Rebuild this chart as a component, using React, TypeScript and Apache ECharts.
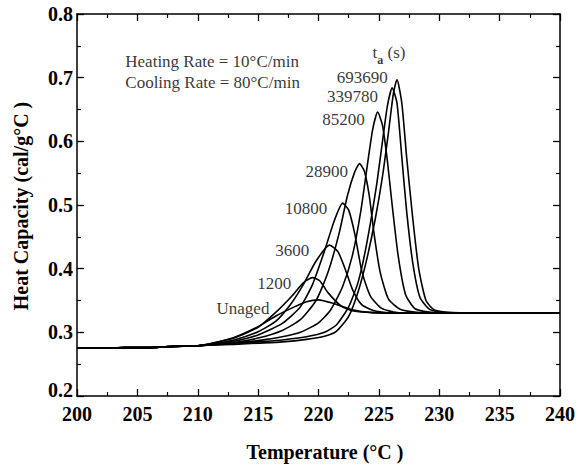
import React, { useEffect, useRef } from "react";
import * as echarts from "echarts";

const FONT = "'Liberation Serif', 'Times New Roman', serif";

// common baseline (all curves coincide here)
const baseT = [200, 202, 204, 206, 208, 210];
const baseCp = [0.275, 0.275, 0.276, 0.276, 0.278, 0.279];

const unagedT = [211, 213, 215, 216.5, 218, 219, 220, 221.3, 222.7, 224.5, 227, 232, 240];
const unagedCp = [0.282, 0.292, 0.309, 0.326, 0.34, 0.348, 0.351, 0.345, 0.336, 0.331, 0.33, 0.33, 0.33];

const t1200T = [211, 213, 215, 216.5, 217.8, 218.7, 219.5, 220.1, 220.8, 221.9, 223, 224.5, 227, 240];
const t1200Cp = [0.282, 0.291, 0.308, 0.332, 0.357, 0.377, 0.386, 0.381, 0.362, 0.341, 0.333, 0.331, 0.33, 0.33];

const t3600T = [211, 213, 215, 216.5, 217.8, 218.8, 219.8, 220.9, 221.6, 222.2, 222.8, 223.6, 224.8, 227, 240];
const t3600Cp = [0.281, 0.288, 0.301, 0.318, 0.347, 0.377, 0.412, 0.437, 0.427, 0.4, 0.368, 0.343, 0.333, 0.33, 0.33];

const t10800T = [211, 213, 215, 217, 218.5, 219.5, 220.5, 221.3, 222, 222.5, 223, 223.6, 224.3, 225.2, 226.5, 229, 240];
const t10800Cp = [0.281, 0.286, 0.296, 0.314, 0.34, 0.375, 0.428, 0.475, 0.503, 0.492, 0.455, 0.395, 0.357, 0.338, 0.331, 0.33, 0.33];

const t28900T = [211, 213, 215, 217, 218.5, 219.8, 220.8, 221.7, 222.4, 223, 223.4, 223.8, 224.2, 224.6, 225.1, 225.8, 226.8, 228.5, 240];
const t28900Cp = [0.28, 0.284, 0.291, 0.303, 0.32, 0.35, 0.395, 0.455, 0.515, 0.552, 0.565, 0.553, 0.515, 0.455, 0.395, 0.352, 0.336, 0.331, 0.33];

const t85200T = [211, 213, 215, 217, 218.5, 220, 221, 222, 222.8, 223.5, 224.1, 224.5, 224.9, 225.3, 225.7, 226.1, 226.6, 227.2, 228, 229.5, 240];
const t85200Cp = [0.28, 0.283, 0.287, 0.293, 0.3, 0.315, 0.335, 0.372, 0.42, 0.49, 0.57, 0.62, 0.646, 0.625, 0.57, 0.5, 0.42, 0.36, 0.337, 0.331, 0.33];

const t339780T = [211, 213, 215, 217, 219, 220.5, 221.5, 222.5, 223.3, 224, 224.8, 225.3, 225.7, 226.1, 226.5, 226.9, 227.3, 227.8, 228.4, 229.2, 230.5, 240];
const t339780Cp = [0.28, 0.282, 0.285, 0.288, 0.293, 0.3, 0.312, 0.34, 0.38, 0.44, 0.53, 0.6, 0.655, 0.684, 0.66, 0.575, 0.49, 0.41, 0.355, 0.336, 0.331, 0.33];

const t693690T = [211, 213, 215, 217, 219, 220.5, 221.5, 222.5, 223.3, 224, 224.7, 225.3, 225.8, 226.2, 226.5, 226.9, 227.3, 227.8, 228.3, 228.9, 229.6, 231, 240];
const t693690Cp = [0.28, 0.281, 0.283, 0.285, 0.289, 0.294, 0.302, 0.325, 0.365, 0.415, 0.478, 0.545, 0.615, 0.675, 0.697, 0.66, 0.575, 0.48, 0.4, 0.35, 0.335, 0.331, 0.33];

const curveNames = ["Unaged", "1200", "3600", "10800", "28900", "85200", "339780", "693690"];
const curveT = [unagedT, t1200T, t3600T, t10800T, t28900T, t85200T, t339780T, t693690T];
const curveCp = [unagedCp, t1200Cp, t3600Cp, t10800Cp, t28900Cp, t85200Cp, t339780Cp, t693690Cp];

// curve labels: [T, Cp] of the label's right end
const labelNames = ["Unaged", "1200", "3600", "10800", "28900", "85200", "339780", "693690"];
const labelT = [216.1, 217.9, 219.4, 220.9, 222.6, 224.0, 225.1, 225.9];
const labelCp = [0.338, 0.377, 0.428, 0.494, 0.553, 0.635, 0.67, 0.701];

const noteLines = ["Heating Rate = 10°C/min", "Cooling Rate = 80°C/min"];
const noteT = [204.0, 204.0];
const noteCp = [0.726, 0.693];

const xTitle = "Temperature (°C )";
const yTitle = "Heat Capacity (cal/g°C )";

export default function App() {
  const ref = useRef<HTMLDivElement>(null);
  useEffect(() => {
    if (!ref.current) return;
    const chart = echarts.init(ref.current, undefined, { renderer: "svg" });

    const lineSeries = curveNames.map((name, i) => ({
      name,
      type: "line",
      smooth: 0.2,
      showSymbol: false,
      symbol: "none",
      lineStyle: { color: "#000", width: 1.6 },
      data: [
        ...baseT.map((t, j) => [t, baseCp[j]]),
        ...curveT[i].map((t, j) => [t, curveCp[i][j]]),
      ],
      z: 3,
    }));

    const labelSeries = {
      type: "scatter",
      symbolSize: 0,
      silent: true,
      data: labelNames.map((n, i) => ({ value: [labelT[i], labelCp[i]], name: n })),
      label: {
        show: true,
        position: "left",
        distance: 2,
        formatter: (p: any) => p.name,
        color: "#000",
        fontFamily: FONT,
        fontSize: 17,
      },
    };

    const noteSeries = {
      type: "scatter",
      symbolSize: 0,
      silent: true,
      data: noteLines.map((n, i) => ({ value: [noteT[i], noteCp[i]], name: n })),
      label: {
        show: true,
        position: "right",
        distance: 0,
        formatter: (p: any) => p.name,
        color: "#000",
        fontFamily: FONT,
        fontSize: 17,
      },
    };

    const taSeries = {
      type: "scatter",
      symbolSize: 0,
      silent: true,
      data: [{ value: [227.2, 0.735], name: "ta" }],
      label: {
        show: true,
        position: "left",
        distance: 0,
        formatter: "{t|t}{s|a}{t| (s)}",
        color: "#000",
        rich: {
          t: { fontFamily: FONT, fontSize: 17, color: "#000", lineHeight: 22, verticalAlign: "top" },
          s: { fontFamily: FONT, fontSize: 12, color: "#000", fontWeight: "bold", lineHeight: 22, verticalAlign: "bottom" },
        },
      },
    };

    const axisCommon = {
      axisLine: { show: true, lineStyle: { color: "#000", width: 1.5 } },
      axisTick: { show: true, inside: true, length: 7, lineStyle: { color: "#000", width: 1.3 } },
      minorTick: { show: true, splitNumber: 2, length: 4, lineStyle: { color: "#000", width: 1.2 } },
      splitLine: { show: false },
      minorSplitLine: { show: false },
    };

    chart.setOption({
      animation: false,
      backgroundColor: "#fff",
      grid: { left: 77, right: 16, top: 14, bottom: 70, containLabel: false },
      xAxis: [
        {
          type: "value",
          min: 200,
          max: 240,
          interval: 5,
          position: "bottom",
          ...axisCommon,
          axisLabel: {
            color: "#000",
            fontFamily: FONT,
            fontWeight: "bold",
            fontSize: 20,
            margin: 8,
          },
        },
        {
          type: "value",
          min: 200,
          max: 240,
          interval: 5,
          position: "top",
          ...axisCommon,
          axisLabel: { show: false },
        },
      ],
      yAxis: [
        {
          type: "value",
          min: 0.2,
          max: 0.8,
          interval: 0.1,
          position: "left",
          ...axisCommon,
          axisLabel: {
            color: "#000",
            fontFamily: FONT,
            fontWeight: "bold",
            fontSize: 20,
            margin: 4,
            formatter: (v: number) => (Math.abs(v - 0.2) < 1e-6 ? "{lift|0.2}" : v.toFixed(1)),
            rich: {
              lift: {
                fontFamily: FONT,
                fontWeight: "bold",
                fontSize: 20,
                color: "#000",
                padding: [0, 0, 12, 0],
              },
            },
          },
        },
        {
          type: "value",
          min: 0.2,
          max: 0.8,
          interval: 0.1,
          position: "right",
          ...axisCommon,
          axisLabel: { show: false },
        },
      ],
      series: [...lineSeries, labelSeries, noteSeries, taSeries],
      graphic: [
        {
          type: "text",
          x: 325,
          y: 452,
          style: {
            text: xTitle,
            font: `bold 20px ${FONT}`,
            fill: "#000",
            align: "center",
            verticalAlign: "middle",
          },
        },
        {
          type: "text",
          x: 21,
          y: 206,
          rotation: Math.PI / 2,
          style: {
            text: yTitle,
            font: `bold 20px ${FONT}`,
            fill: "#000",
            align: "center",
            verticalAlign: "middle",
          },
        },
      ],
    });
    return () => chart.dispose();
  }, []);

  return (
    <div
      ref={ref}
      style={{ position: "absolute", left: 0, top: 0, width: 578, height: 466, background: "#fff" }}
    />
  );
}
